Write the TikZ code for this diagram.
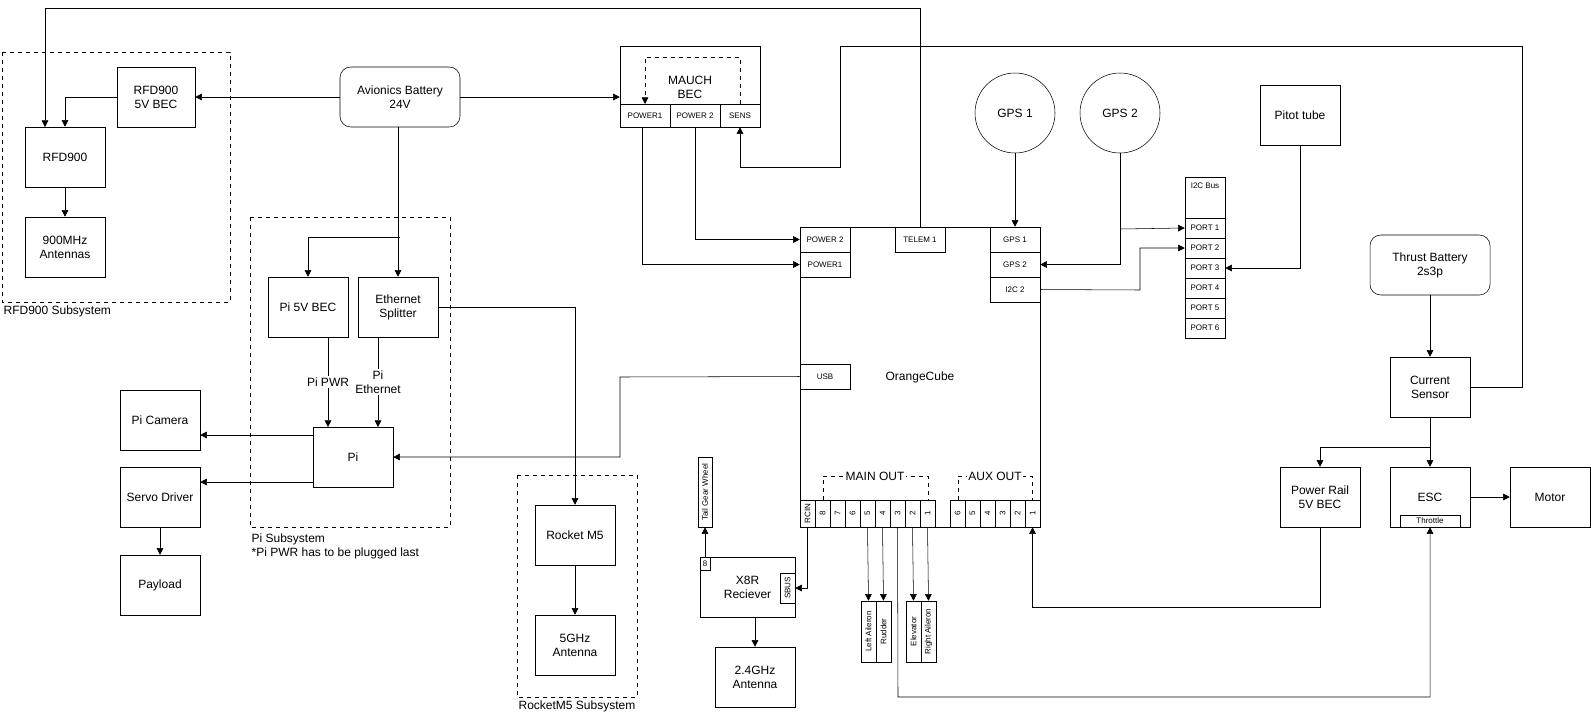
\documentclass[tikz,border=0pt]{standalone}
\usepackage{fontspec}
\setmainfont{Liberation Sans}
\usetikzlibrary{arrows.meta}
\begin{document}
\begin{tikzpicture}[x=0.75pt,y=-0.75pt,
  bx/.style={draw,inner sep=1pt,align=center,font=\fontsize{9}{10.5}\selectfont},
  sm/.style={font=\fontsize{6}{7}\selectfont},
  rb/.style={rounded corners=8pt},
  ar/.style={-{Triangle[length=5pt,width=5pt]}},
  dsh/.style={dashed},
  lbl/.style={font=\fontsize{9}{10.5}\selectfont,inner sep=1pt,align=center}]
\useasboundingbox (0,0) rectangle (1591,726);
\newcommand\bx[7][]{\node[bx,#1,minimum width={((#5)-(#3))*0.75pt},minimum height={((#6)-(#4))*0.75pt}] (#2) at ({((#3)+(#5))/2},{((#4)+(#6))/2}) {#7};}
\newcommand\vbx[7][]{\node[bx,sm,rotate=90,#1,minimum height={((#5)-(#3))*0.75pt},minimum width={((#6)-(#4))*0.75pt}] (#2) at ({((#3)+(#5))/2},{((#4)+(#6))/2}) {#7};}
% RFD900 subsystem
\draw[dsh] (2,52) rectangle (230,302);
\node[lbl,anchor=north west] (rfdl) at (2,304) {RFD900 Subsystem};
\bx{rbec}{117}{67}{195}{127}{RFD900\\5V BEC}
\bx{rfd}{25}{127}{105}{187}{RFD900}
\bx{ant9}{25}{217}{105}{277}{900MHz\\Antennas}
\bx[rb]{batt}{340}{67}{460}{127}{Avionics Battery\\24V}
\draw[ar] (batt.west) -- (rbec.east);
\draw[ar] (rbec.west) -| (rfd.north);
\draw[ar] (rfd) -- (ant9);
% MAUCH
\bx{mauch}{620}{46}{760}{104}{}
\node[lbl] (mt) at (690,87) {MAUCH\\BEC};
\bx[sm]{mp1}{620}{104}{670}{127}{POWER1}
\bx[sm]{mp2}{670}{104}{720}{127}{POWER 2}
\bx[sm]{ms}{720}{104}{760}{127}{SENS}
\draw[dsh,ar] (740,104) -- (740,57) -- (645,57) -- (645,104);
\draw[ar] (batt.east) -- (mauch.west |- batt.east);
% Pi subsystem
\draw[dsh] (250,217) rectangle (450,527);
\node[lbl,anchor=north west,align=left] (pil) at (250,532) {Pi Subsystem\\*Pi PWR has to be plugged last};
\bx{pibec}{268}{277}{348}{337}{Pi 5V BEC}
\bx{eth}{358}{277}{438}{337}{Ethernet\\Splitter}
\bx{pi}{313}{427}{393}{487}{Pi}
\draw[ar] (batt.south -| eth.north) -- (eth.north);
\draw[ar] (400,237) -| (pibec.north);
\draw[ar] (pibec.south -| 328,0) -- node[fill=white,lbl] {Pi PWR} (328,427);
\draw[ar] (eth.south -| 378,0) -- node[fill=white,lbl] {Pi\\Ethernet} (378,427);
\bx{cam}{120}{390}{200}{450}{Pi Camera}
\bx{servo}{120}{467}{200}{527}{Servo Driver}
\bx{pay}{120}{555}{200}{615}{Payload}
\draw[ar] (313,435) -- (cam.east |- 0,435);
\draw[ar] (313,482) -- (servo.east |- 0,482);
\draw[ar] (servo) -- (pay);
% RocketM5
\draw[dsh] (517,475) rectangle (637,697);
\node[lbl,anchor=north west] (rml) at (517,699) {RocketM5 Subsystem};
\bx{rm5}{535}{505}{615}{565}{Rocket M5}
\bx{ant5}{535}{615}{615}{675}{5GHz\\Antenna}
\draw[ar] (eth.east |- 0,307) -| (rm5.north);
\draw[ar] (rm5) -- (ant5);
% OrangeCube
\bx{oc}{800}{227}{1040}{527}{}
\node[lbl] (oct) at (920,377) {OrangeCube};
\bx[sm]{op2}{800}{227}{850}{252}{POWER 2}
\bx[sm]{op1}{800}{252}{850}{277}{POWER1}
\bx[sm]{tel}{895}{227}{945}{252}{TELEM 1}
\bx[sm]{og1}{990}{227}{1040}{252}{GPS 1}
\bx[sm]{og2}{990}{252}{1040}{277}{GPS 2}
\bx[sm]{oi2}{990}{277}{1040}{302}{I2C 2}
\bx[sm]{usb}{800}{364}{850}{389}{USB}
\draw[ar] (usb.west) -- (620,377) -- (620,457) -- (pi.east |- 0,457);
\draw[ar] (642,127) |- (op1.west);
\draw[ar] (695,127) |- (op2.west);
\draw[ar] (tel.north) -- (920,8) -- (45,8) -- (45,127);
% ports
\vbx{rcin}{800}{500}{815}{527}{RCIN}
\foreach \n [count=\i from 0] in {8,7,6,5,4,3,2,1}{
  \vbx{m\n}{815+15*\i}{500}{830+15*\i}{527}{\n}}
\foreach \n [count=\i from 0] in {6,5,4,3,2,1}{
  \vbx{a\n}{950+15*\i}{500}{965+15*\i}{527}{\n}}
\draw[dsh] (823,500) -- (823,476) -- (928,476) -- (928,500);
\node[lbl,fill=white] (mo) at (875,476) {MAIN OUT};
\draw[dsh] (958,500) -- (958,476) -- (1032,476) -- (1032,500);
\node[lbl,fill=white] (ao) at (995,476) {AUX OUT};
\vbx{la}{861}{601}{876}{662}{Left Aileron}
\vbx{ru}{876}{601}{891}{662}{Rudder}
\vbx{el}{906}{601}{921}{662}{Elevator}
\vbx{ra}{921}{601}{936}{662}{Right Aileron}
\draw[ar] (m5.west) -- (la.east);
\draw[ar] (m4.west) -- (ru.east);
\draw[ar] (m2.west) -- (el.east);
\draw[ar] (m1.west) -- (ra.east);
% X8R
\bx{x8r}{700}{557}{795}{617}{X8R\\Reciever}
\vbx{sbus}{780}{573}{795}{603}{SBUS}
\bx[sm,inner sep=0pt]{p8}{700}{557}{710}{570}{8}
\vbx{tgw}{698}{457}{712}{527}{Tail Gear Wheel}
\draw[ar] (p8.north) -- (tgw.west);
\draw[ar] (rcin.west) |- (sbus.south);
\bx{ant24}{715}{647}{795}{707}{2.4GHz\\Antenna}
\draw[ar] (x8r.south -| ant24.north) -- (ant24.north);
% GPS etc
\node[draw,circle,minimum size=60pt,lbl] (g1) at (1015,113) {GPS 1};
\node[draw,circle,minimum size=60pt,lbl] (g2) at (1120,113) {GPS 2};
\bx{pit}{1260}{85}{1340}{145}{Pitot tube}
\draw[ar] (g1.south) -- (og1.north);
\draw[ar] (g2.south) |- (og2.east);
\bx{i2c}{1185}{177}{1225}{218}{}
\node[sm,anchor=north] (i2ct) at (1205,178) {I2C Bus};
\foreach \i in {1,...,6}{\bx[sm]{pt\i}{1185}{198+20*\i}{1225}{218+20*\i}{PORT \i}}
\draw[ar] (1120,229) -- (pt1.west);
\draw[ar] (oi2.east) -- (1140,290) |- (pt2.west);
\draw[ar] (pit.south) |- (pt3.east);
% thrust side
\bx[rb]{tb}{1370}{235}{1490}{295}{Thrust Battery\\2s3p}
\bx{cs}{1390}{357}{1470}{417}{Current\\Sensor}
\bx{pr}{1280}{467}{1360}{527}{Power Rail\\5V BEC}
\bx{esc}{1390}{467}{1470}{527}{ESC}
\bx[sm,inner sep=0pt]{thr}{1400}{515}{1460}{527}{Throttle}
\bx{mot}{1510}{467}{1590}{527}{Motor}
\draw[ar] (tb) -- (cs);
\draw[ar] (cs) -- (esc);
\draw[ar] (1430,447) -| (pr.north);
\draw[ar] (esc) -- (mot);
\draw[ar] (pr.south) -- (1320,607) -| (a1.west);
\draw[ar] (m3.west) -- (898,697) -| (esc.south);
\draw[ar] (cs.east |- 0,387) -- (1522,387) -- (1522,46) -- (840,46) -- (840,167) -- (740,167) -- (ms.south);
\end{tikzpicture}
\end{document}
